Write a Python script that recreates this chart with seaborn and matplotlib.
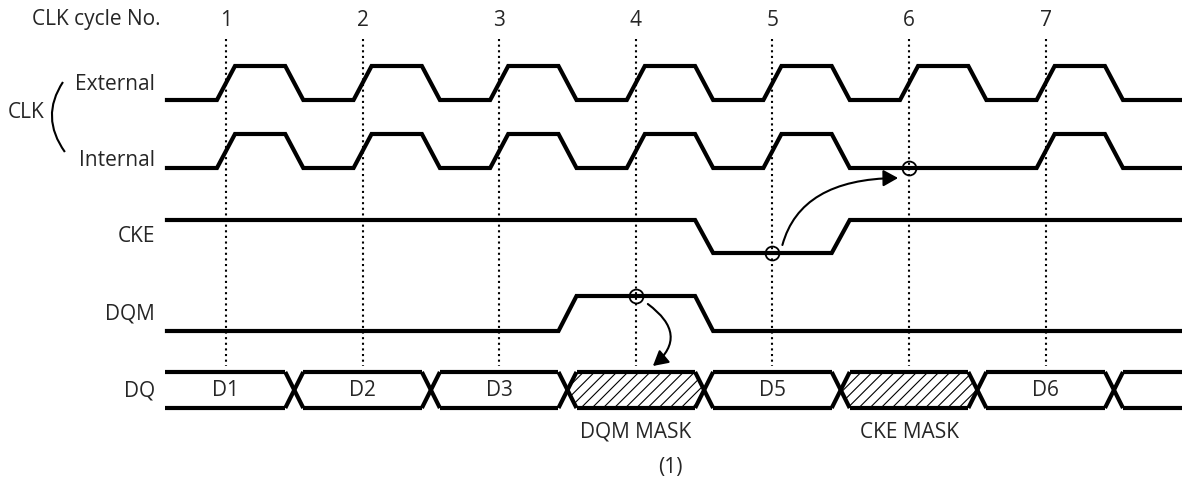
import numpy as np
import pandas as pd
import matplotlib
matplotlib.use("Agg")
import matplotlib.pyplot as plt
import seaborn as sns
from matplotlib.path import Path
from matplotlib.patches import FancyArrowPatch, PathPatch, Polygon

# ---------------- data ----------------
cycle_numbers = [1, 2, 3, 4, 5, 6, 7]
ext_clk_edges = [1, 1.5, 2, 2.5, 3, 3.5, 4, 4.5, 5, 5.5, 6, 6.5, 7, 7.5]
int_clk_edges = [1, 1.5, 2, 2.5, 3, 3.5, 4, 4.5, 5, 5.5, 7, 7.5]
cke_edges = [4.5, 5.5]
dqm_edges = [3.5, 4.5]
start_levels = {"External": 0, "Internal": 0, "CKE": 1, "DQM": 0}
signal_edges = {"External": ext_clk_edges, "Internal": int_clk_edges,
                "CKE": cke_edges, "DQM": dqm_edges}
dq_bounds = [1.5, 2.5, 3.5, 4.5, 5.5, 6.5, 7.5]
dq_labels = ["D1", "D2", "D3", "", "D5", "", "D6", ""]
dq_masked = [False, False, False, True, False, True, False, False]
mask_labels = {3: "DQM MASK", 5: "CKE MASK"}
markers = [("DQM", 4), ("CKE", 5), ("Internal", 6)]
caption = "(1)"

# ---------------- layout ----------------
T0, T1 = 0.553, 8.0          # waveform start / end (cycle units)
HW = 0.066                   # half width of a transition
rows = {"External": (67, 101), "Internal": (135, 169),
        "CKE": (221, 254), "DQM": (297, 332)}   # (high y, low y)
DQ_TOP, DQ_BOT = 373, 409
LW = 3.0
FS = 15

sns.set_theme(style="white")
plt.rcParams["font.family"] = ["Open Sans", "DejaVu Sans"]
plt.rcParams["hatch.linewidth"] = 0.8

fig = plt.figure(figsize=(11.82, 4.89), dpi=100)
ax = fig.add_axes([0, 0, 1, 1])
ax.set_xlim(-0.654, 7.998)
ax.set_ylim(489, 0)
ax.axis("off")


def level_y(name, lvl):
    hi, lo = rows[name]
    return hi if lvl else lo


def waveform(name):
    lvl = start_levels[name]
    pts = [(T0, level_y(name, lvl))]
    for e in signal_edges[name]:
        pts.append((e - HW, level_y(name, lvl)))
        lvl = 1 - lvl
        pts.append((e + HW, level_y(name, lvl)))
    pts.append((T1, level_y(name, lvl)))
    return pts


def level_at(name, t):
    lvl = start_levels[name]
    for e in signal_edges[name]:
        if e < t:
            lvl = 1 - lvl
    return level_y(name, lvl)


recs = []
for name in signal_edges:
    for t, y in waveform(name):
        recs.append({"seg": name, "t": t, "y": y})

# DQ bus segments
mid = (DQ_TOP + DQ_BOT) / 2
edges_all = [T0] + dq_bounds + [T1]
k = 0
for i in range(len(edges_all) - 1):
    a, b = edges_all[i], edges_all[i + 1]
    a2 = a + HW if i > 0 else a
    b2 = b - HW if i < len(edges_all) - 2 else b
    for yy in (DQ_TOP, DQ_BOT):
        recs += [{"seg": f"dq{k}", "t": a2, "y": yy}, {"seg": f"dq{k}", "t": b2, "y": yy}]
        k += 1
for c in dq_bounds:
    recs += [{"seg": f"dq{k}", "t": c - HW, "y": DQ_TOP}, {"seg": f"dq{k}", "t": c + HW, "y": DQ_BOT}]
    k += 1
    recs += [{"seg": f"dq{k}", "t": c - HW, "y": DQ_BOT}, {"seg": f"dq{k}", "t": c + HW, "y": DQ_TOP}]
    k += 1

df = pd.DataFrame(recs)
sns.lineplot(data=df, x="t", y="y", units="seg", estimator=None, sort=False,
             color="black", lw=LW, ax=ax, legend=False,
             solid_joinstyle="miter", solid_capstyle="butt")

# dotted cycle markers
for c in cycle_numbers:
    ax.plot([c, c], [40, 367], color="black", lw=1.5, ls=(0, (1, 1.7)), zorder=1)
    ax.text(c, 20, str(c), ha="center", va="center", fontsize=FS)

# hatched masked DQ segments
for i, m in enumerate(dq_masked):
    a, b = edges_all[i], edges_all[i + 1]
    if m:
        poly = Polygon([(a, mid), (a + HW, DQ_TOP), (b - HW, DQ_TOP), (b, mid),
                        (b - HW, DQ_BOT), (a + HW, DQ_BOT)], closed=True,
                       fill=False, hatch="///", edgecolor="black", lw=0)
        ax.add_patch(poly)
    if dq_labels[i]:
        ax.text((a + b) / 2 if i > 0 else 1, mid, dq_labels[i], ha="center",
                va="center", fontsize=FS)
    if i in mask_labels:
        ax.text((a + b) / 2, 432, mask_labels[i], ha="center", va="center", fontsize=FS)

# circle markers
for name, t in markers:
    ax.plot([t], [level_at(name, t)], marker="o", ms=10, mfc="none",
            mec="black", mew=1.3, zorder=5)

# arrows
arrow_paths = [
    [(4.088, 305), (4.396, 336), (4.125, 367)],
    [(5.073, 246), (5.205, 180), (5.92, 179)],
]
for p in arrow_paths:
    path = Path(p, [Path.MOVETO, Path.CURVE3, Path.CURVE3])
    ar = FancyArrowPatch(path=path, arrowstyle="-|>,head_length=0.45,head_width=0.25",
                         mutation_scale=20, lw=1.5, color="black")
    ax.add_patch(ar)

# bracket
bpath = Path([(-0.193, 83), (-0.362, 118), (-0.179, 153)],
             [Path.MOVETO, Path.CURVE3, Path.CURVE3])
ax.add_patch(PathPatch(bpath, fill=False, lw=1.5, color="black"))

# labels
LX = 0.480
ax.text(LX, 84, "External", ha="right", va="center", fontsize=FS)
ax.text(LX, 160, "Internal", ha="right", va="center", fontsize=FS)
ax.text(-0.596, 112, "CLK", ha="left", va="center", fontsize=FS)
ax.text(LX, 237, "CKE", ha="right", va="center", fontsize=FS)
ax.text(LX, 314, "DQM", ha="right", va="center", fontsize=FS)
ax.text(LX, 391, "DQ", ha="right", va="center", fontsize=FS)
ax.text(-0.42, 20, "CLK cycle No.", ha="left", va="center", fontsize=FS)
ax.text(4.25, 468, caption, ha="center", va="center", fontsize=FS)

fig.savefig("out.png", dpi=100)
